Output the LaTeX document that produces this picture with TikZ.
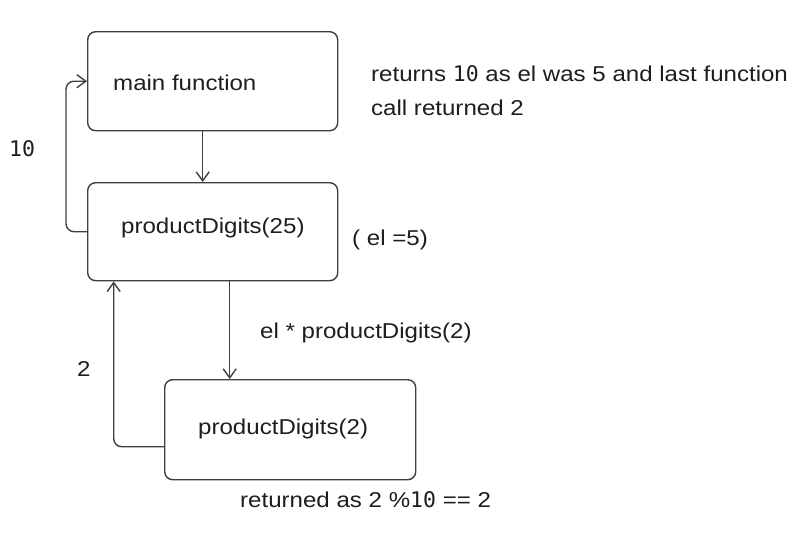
\documentclass[tikz,border=0pt]{standalone}
\usepackage{fontspec}
\setmainfont{Liberation Sans}[FakeStretch=1.12]
\newfontfamily\monof{DejaVu Sans Mono}
\usetikzlibrary{arrows.meta}
\definecolor{linec}{HTML}{404040}
\definecolor{textc}{HTML}{1E1E1E}
\newcommand\tenmono{{\monof 10}}
\begin{document}
\begin{tikzpicture}[x=1pt,y=-1pt,
  box/.style={draw=linec, line width=1.4pt, rounded corners=8pt, inner sep=0pt, anchor=north west},
  lbl/.style={anchor=base west, inner sep=0pt, text=textc, font=\fontsize{21.5}{26}\selectfont},
  conn/.style={draw=linec, line width=1.4pt, -{Straight Barb[length=9pt,width=13pt]}, rounded corners=8pt}]
\useasboundingbox[fill=white] (0,0) rectangle (801,554);
% boxes
\node[box, minimum width=250pt, minimum height=99pt] (main) at (87,31) {};
\node[box, minimum width=250pt, minimum height=98pt] (pd25) at (87,182) {};
\node[box, minimum width=251pt, minimum height=100pt] (pd2) at (164,379) {};
% connectors
\draw[conn] ([xshift=-10pt]main.south) -- ([xshift=-10pt]pd25.north);
\draw[conn] ([xshift=17pt]pd25.south) -- ([xshift=17pt]pd25.south |- pd2.north);
\draw[conn] (pd25.west) -| ([xshift=-21pt]main.west) -- (main.west);
\draw[conn] ([yshift=-17pt]pd2.west) -| ([xshift=-99pt]pd25.south);
% labels
\node[lbl] (tmain) at (113,90.7) {main function};
\node[lbl] (ret1) at (371,81.7) {returns \tenmono{} as el was 5 and last function};
\node[lbl] (ret2) at (371,115) {call returned 2};
\node[lbl] (ten) at (9,156) {\tenmono};
\node[lbl] (t25) at (121,233) {productDigits(25)};
\node[lbl] (el5) at (352,245.7) {( el =5)};
\node[lbl] (elmul) at (260,338) {el * productDigits(2)};
\node[lbl] (two) at (77,376.7) {2};
\node[lbl] (t2) at (198,434) {productDigits(2)};
\node[lbl] (retd) at (240,507) {returned as 2 \%\tenmono{} == 2};
\end{tikzpicture}
\end{document}
